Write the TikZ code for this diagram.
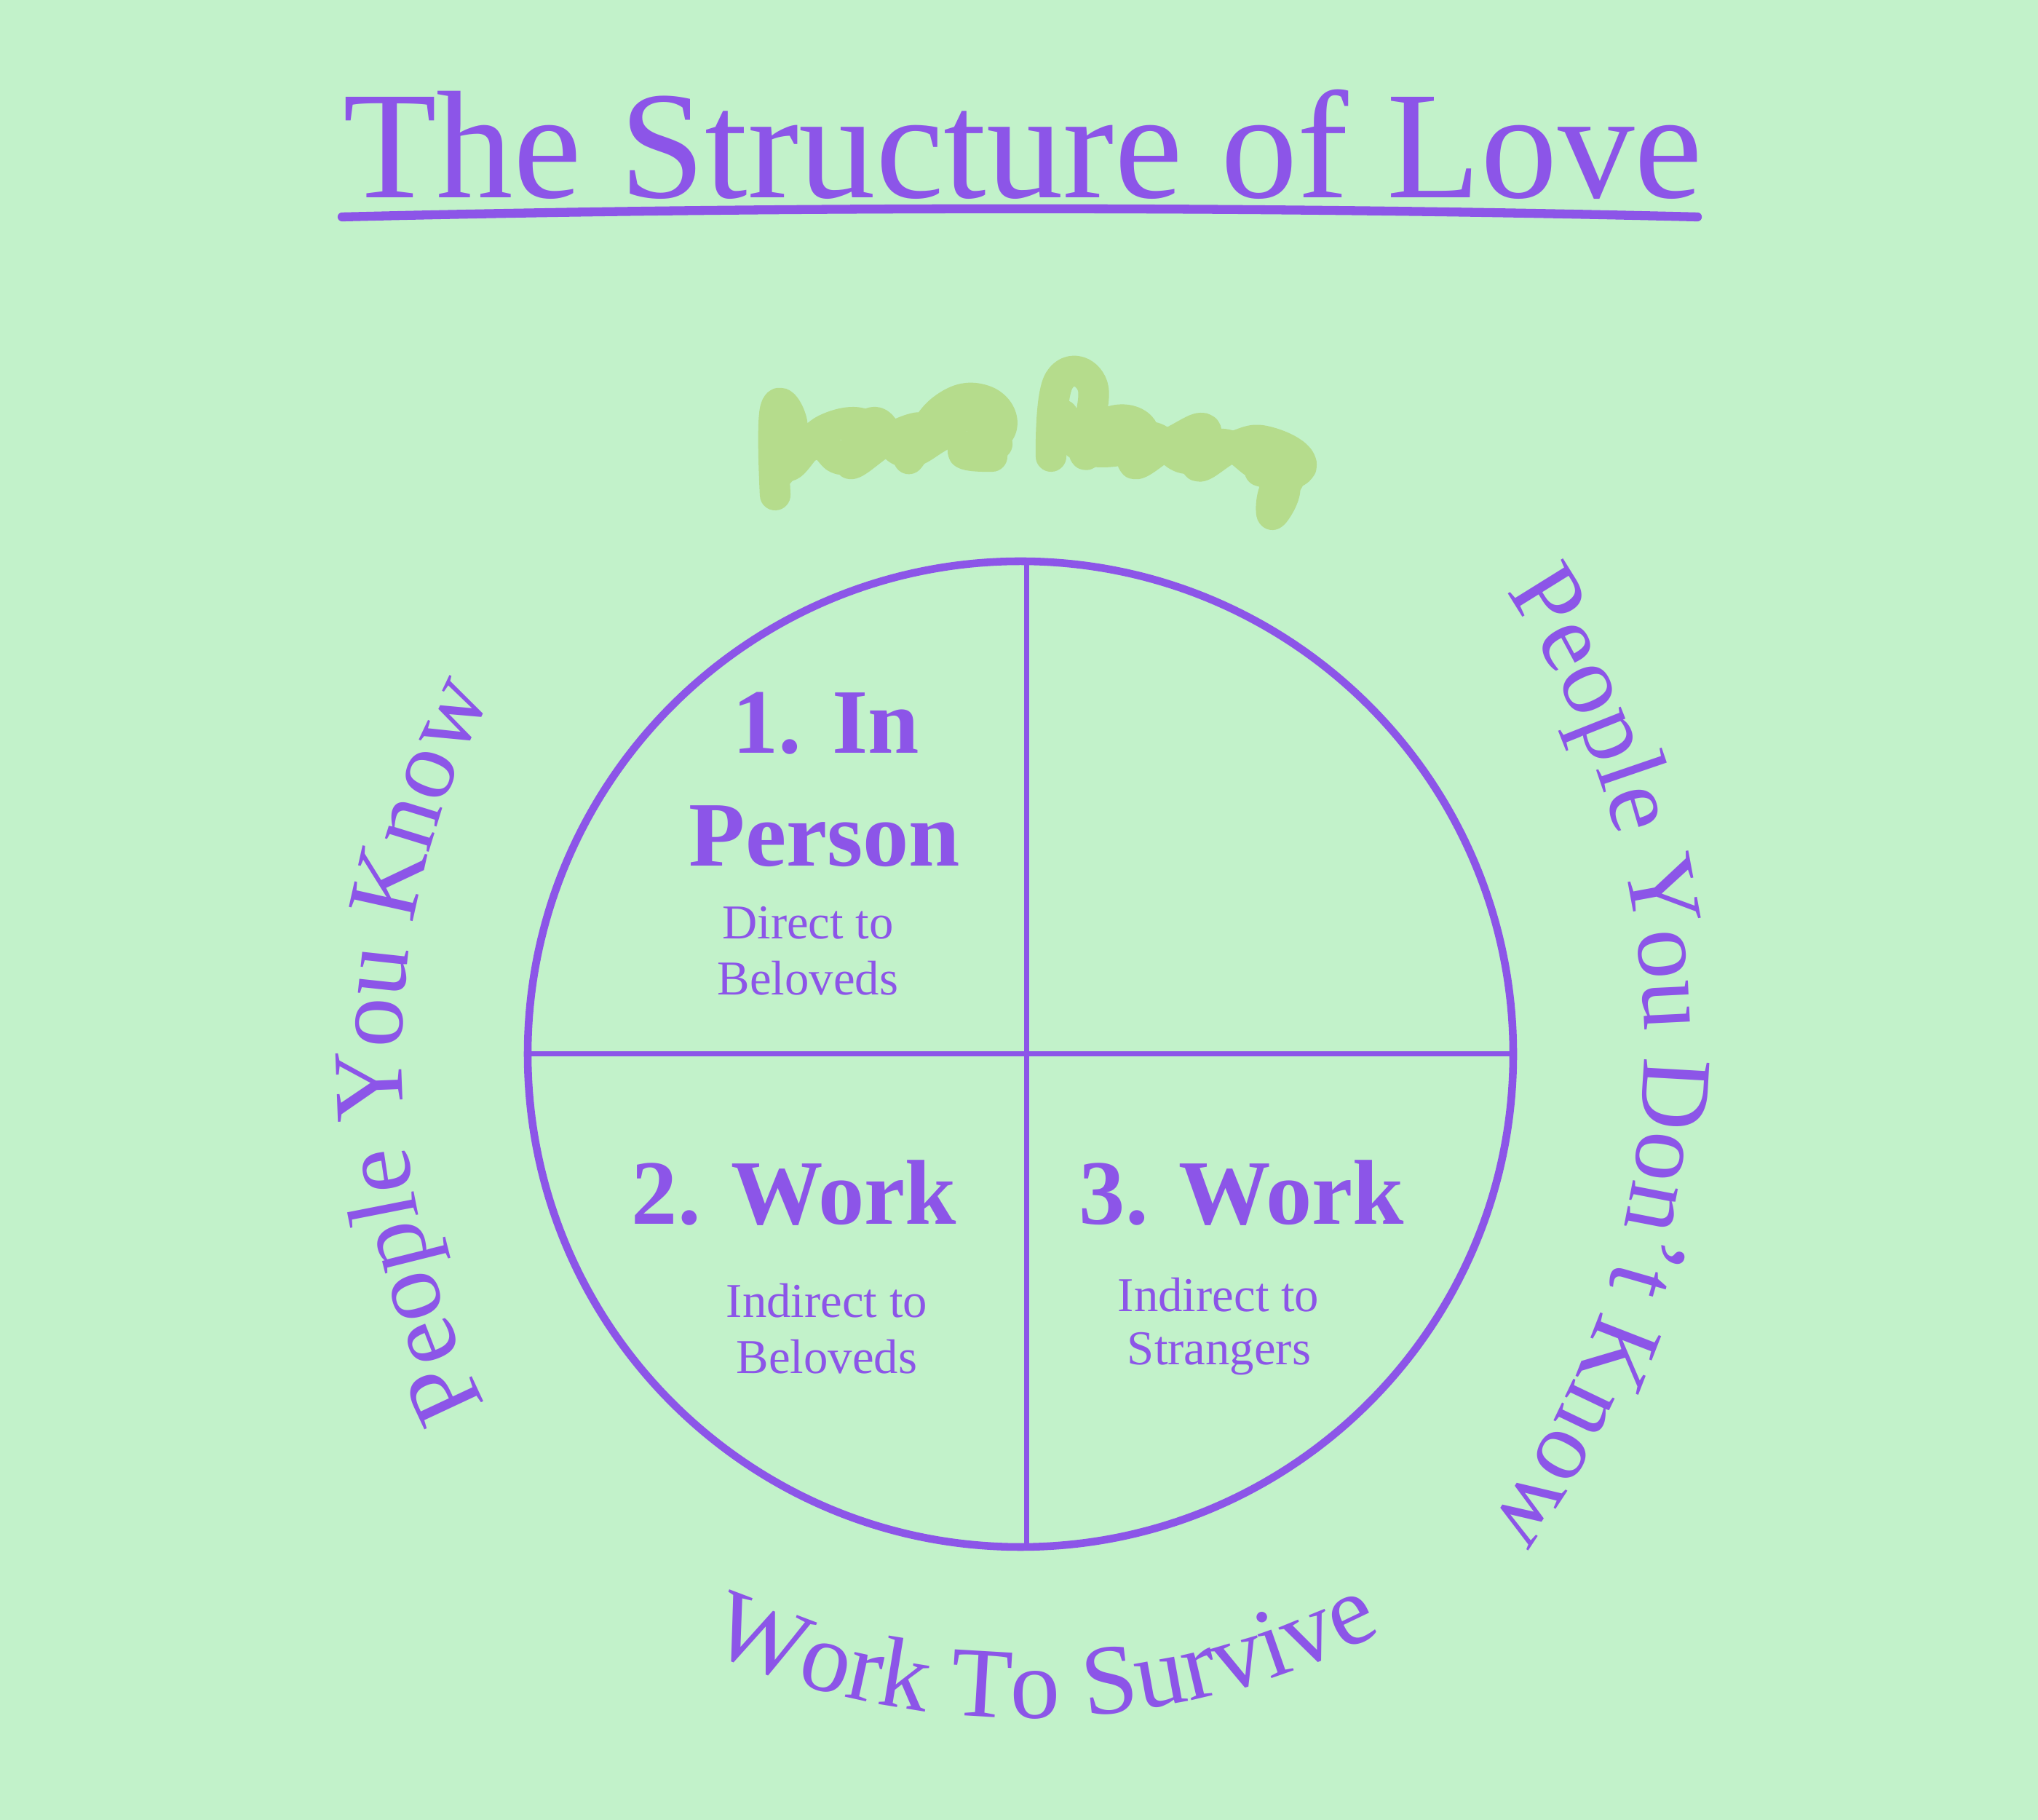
\documentclass[tikz,border=0pt]{standalone}
\usepackage{fontspec}
\setmainfont{Liberation Serif}
\usepackage{xcolor}
\usepackage{tikz}
\usetikzlibrary{positioning,decorations.text}

\definecolor{paper}{HTML}{C2F2CA}
\definecolor{lovepurple}{HTML}{8C55E8}
\definecolor{scribble}{HTML}{B5DC8C}

\newcommand{\titlefont}{\fontsize{60}{70}\selectfont}
\newcommand{\headfont}{\fontsize{36}{44}\selectfont\bfseries}
\newcommand{\subfont}{\fontsize{19}{22}\selectfont}
\newcommand{\arcfont}{\fontsize{39}{46}\selectfont}

\begin{document}
\begin{tikzpicture}[every node/.style={text=lovepurple, inner sep=0pt},
  titletxt/.style={font=\titlefont, anchor=base},
  headtxt/.style={font=\headfont, anchor=base},
  subtxt/.style={font=\subfont, anchor=base},
  wheel/.style={circle, draw=lovepurple, line width=3pt, minimum size=13.54cm, outer sep=0pt},
  divider/.style={draw=lovepurple, line width=2pt},
  underline/.style={draw=lovepurple, line width=3.5pt, line cap=round},
  arctext/.style={decorate, decoration={text along path, text align=center, text color=lovepurple, text={|\arcfont|#1}}},
  scribblepen/.style={draw=scribble, line width=12pt, line cap=round, line join=round}]
  \useasboundingbox (0,0) rectangle (28,25);
  \fill[paper] (0,0) rectangle (28,25);

  % title
  \node[titletxt] (title) at (14.05,22.28) {The Structure of Love};
  \coordinate (ulL) at (4.70,22.02);
  \coordinate (ulR) at (23.32,22.02);
  \draw[underline] (ulL) .. controls +(6,0.15) and +(-6,0.15) .. (ulR);

  % scratched-out words
  \draw[scribblepen] plot[smooth, tension=0.8] coordinates {(10.65,18.20) (10.65,19.37) (10.88,19.20) (10.82,18.60) (11.34,19.10) (11.91,19.13) (11.68,18.63) (12.26,19.00) (12.71,19.10) (12.49,18.70) (12.94,19.37) (13.52,19.50) (13.75,19.10) (13.23,18.80) (13.63,18.73)};
  \draw[scribblepen] plot[smooth, tension=0.8] coordinates {(10.70,18.50) (11.20,18.90) (11.60,18.70) (12.00,19.20) (12.40,18.80) (12.90,19.00) (13.30,19.30) (13.70,18.90)};
  \draw[scribblepen] plot[smooth, tension=0.8] coordinates {(14.44,18.73) (14.55,19.77) (15.01,19.70) (14.90,18.77) (15.24,19.20) (15.70,19.10) (15.58,18.63) (16.10,18.93) (16.56,19.10) (16.45,18.60) (16.96,18.87) (17.42,18.93) (17.88,18.63) (17.54,18.33) (17.48,17.93) (17.65,18.33) (17.31,18.53)};
  \draw[scribblepen] plot[smooth, tension=0.8] coordinates {(14.60,19.30) (14.80,18.90) (15.30,18.80) (15.80,19.00) (16.30,18.70) (16.80,18.90) (17.30,18.60) (17.70,18.40)};

  % the wheel
  \node[wheel] (wheel) at (14.02,10.52) {};
  \draw[divider] ([xshift=0.8mm]wheel.north) -- ([xshift=0.8mm]wheel.south);
  \draw[divider] (wheel.west) -- (wheel.east);

  % quadrants
  \node[headtxt] (inperson) at (11.35,14.65) {1. In};
  \node[headtxt] (person) at (11.33,13.10) {Person};
  \node[subtxt] (direct) at (11.10,12.10) {Direct to};
  \node[subtxt] (belovedA) at (11.10,11.33) {Beloveds};
  \node[headtxt] (workA) at (10.91,8.18) {2. Work};
  \node[subtxt] (indirectA) at (11.36,6.90) {Indirect to};
  \node[subtxt] (belovedB) at (11.36,6.13) {Beloveds};
  \node[headtxt] (workB) at (17.06,8.18) {3. Work};
  \node[subtxt] (indirectB) at (16.74,6.98) {Indirect to};
  \node[subtxt] (strangers) at (16.75,6.25) {Strangers};

  % curved labels
  \path[arctext={People You Know}] (16.02,10.50) ++(209:10.5) arc[start angle=209, end angle=150, radius=10.5];
  \path[arctext={People You Don’t Know}] (11.34,10.625) ++(36:11.25) arc[start angle=36, end angle=-38, radius=11.25];
  \path[arctext={Work To Survive}] (14.10,12.09) ++(243:10.69) arc[start angle=243, end angle=300, radius=10.69];
\end{tikzpicture}
\end{document}
